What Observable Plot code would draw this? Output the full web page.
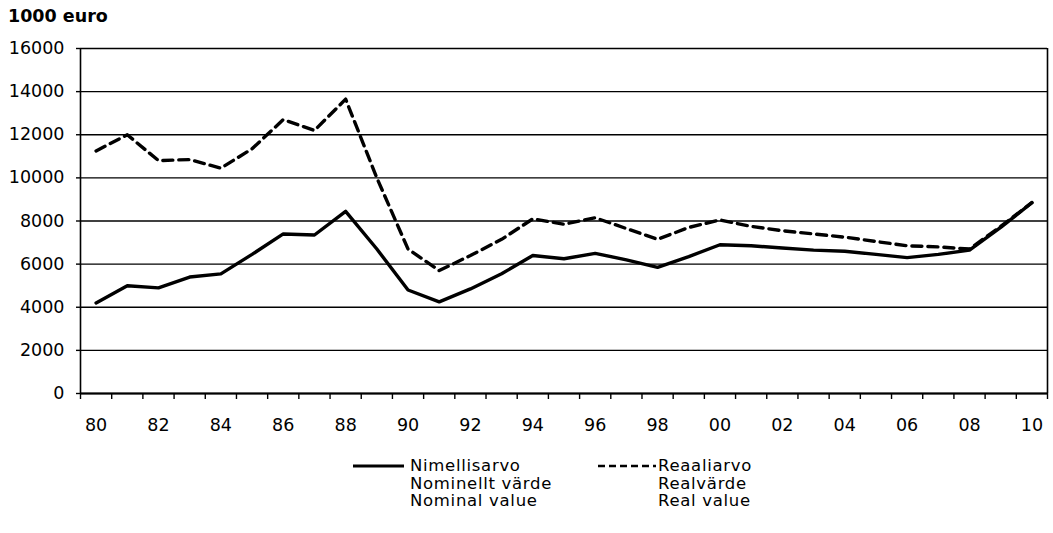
<!DOCTYPE html>
<html>
<head>
<meta charset="utf-8">
<script src="https://cdn.jsdelivr.net/npm/d3@7"></script>
<script src="https://cdn.jsdelivr.net/npm/@observablehq/plot@0.6"></script>
<style>
  body { margin: 0; background: #fff; font-family: "DejaVu Sans", sans-serif; }
  #wrap { position: relative; width: 1053px; height: 533px; }
  #title { position: absolute; left: 8px; top: 6px; font-size: 17.5px; font-weight: bold; color: #000; }
  #chart { position: absolute; left: 0; top: 30px; }
  .leg { position: absolute; font-size: 16.5px; letter-spacing: 0.7px; line-height: 17.5px; color: #000; }
  .leg svg { position: absolute; top: 0; }
</style>
</head>
<body>
<div id="wrap">
  <div id="title">1000 euro</div>
  <div id="chart"></div>
  <div class="leg" style="left:410px; top:457px;">
    <svg style="left:-58px" width="56" height="18"><line x1="1" x2="52" y1="9" y2="9" stroke="black" stroke-width="3"/></svg>
    Nimellisarvo<br>Nominellt värde<br>Nominal value
  </div>
  <div class="leg" style="left:658px; top:457px;">
    <svg style="left:-60px" width="60" height="18"><line x1="0" x2="58" y1="9" y2="9" stroke="black" stroke-width="2.5" stroke-dasharray="7,4"/></svg>
    Reaaliarvo<br>Realvärde<br>Real value
  </div>
</div>
<script>
const years = d3.range(1980, 2011);
const nominal = [4200, 5000, 4900, 5400, 5550, 6450, 7400, 7350, 8450, 6700,
                 4800, 4250, 4850, 5550, 6400, 6250, 6500, 6200, 5850, 6350,
                 6900, 6850, 6750, 6650, 6600, 6450, 6300, 6450, 6650, 7700, 8850];
const real = [11250, 12000, 10800, 10850, 10450, 11350, 12700, 12200, 13650, 10000,
              6700, 5700, 6400, 7150, 8100, 7850, 8150, 7650, 7150, 7700,
              8050, 7750, 7550, 7400, 7250, 7050, 6850, 6800, 6700, 7750, 8850];
const yTicks = [0, 2000, 4000, 6000, 8000, 10000, 12000, 14000, 16000];
const labelYears = years.filter(y => y % 2 === 0);
const boundaries = d3.range(1979.5, 2011, 1);

const nomData = years.map((y, i) => ({year: y, value: nominal[i]}));
const realData = years.map((y, i) => ({year: y, value: real[i]}));

const font = "DejaVu Sans, sans-serif";
const chart = Plot.plot({
  width: 1053,
  height: 420,
  marginTop: 18,
  marginBottom: 57,
  marginLeft: 80,
  marginRight: 6,
  style: {fontFamily: font, fontSize: "17.5px", color: "black", background: "white"},
  x: {domain: [1979.5, 2010.5]},
  y: {domain: [0, 16000]},
  marks: [
    Plot.gridY(yTicks, {stroke: "black", strokeOpacity: 1, strokeWidth: 1.4}),
    Plot.axisY(yTicks, {tickSize: 4, tickPadding: 12, tickFormat: d => String(d), stroke: "black", strokeWidth: 1.4, label: null, fontSize: 17.5}),
    Plot.axisX(boundaries, {tickSize: 6, tickFormat: () => "", stroke: "black", strokeWidth: 1.4, label: null}),
    Plot.axisX(labelYears, {tickSize: 0, tickPadding: 25, tickFormat: d => String(d % 100).padStart(2, "0"), label: null, fontSize: 17.5}),
    Plot.ruleX([1979.5, 2010.5], {stroke: "black", strokeWidth: 1.6}),
    Plot.ruleY([0], {stroke: "black", strokeWidth: 1.8}),
    Plot.lineY(realData, {x: "year", y: "value", stroke: "black", strokeWidth: 3.4, strokeDasharray: "10,6"}),
    Plot.lineY(nomData, {x: "year", y: "value", stroke: "black", strokeWidth: 3.4})
  ]
});
document.getElementById("chart").appendChild(chart);
</script>
</body>
</html>
